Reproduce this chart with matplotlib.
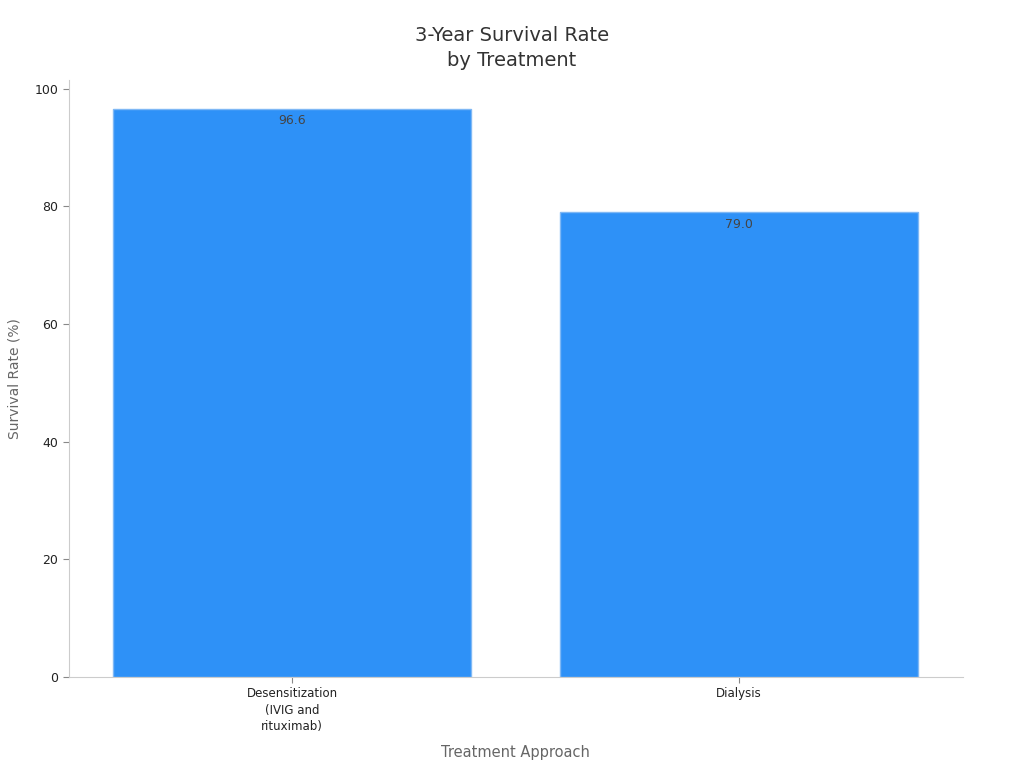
import matplotlib.pyplot as plt
import numpy as np

plt.rcParams['font.family'] = ['DejaVu Sans']

categories = ['Desensitization\n(IVIG and\nrituximab)', 'Dialysis']
survival = [96.6, 79.0]

fig = plt.figure(figsize=(10.24, 7.68), dpi=100)
ax = fig.add_axes([0.067, 0.1185, 0.873, 0.7775])

x = np.arange(len(categories))
bars = ax.bar(x, survival, width=0.8, color='#2E91F7', edgecolor='#7FB8F5', linewidth=1)

for b, v in zip(bars, survival):
    ax.annotate(f'{v:.1f}', xy=(b.get_x() + b.get_width() / 2, v), xytext=(0, -4),
                textcoords='offset points', ha='center', va='top', fontsize=9, color='#444444')

ax.set_xlim(-0.5, 1.5)
ax.set_ylim(0, 101.5)
ax.set_xticks(x)
ax.set_xticklabels(categories, fontsize=8.5, color='#222222', linespacing=1.35)
ax.set_yticks([0, 20, 40, 60, 80, 100])
ax.tick_params(axis='y', labelsize=9, colors='#222222')
ax.tick_params(axis='both', color='#888888', length=4)

for s in ['top', 'right']:
    ax.spines[s].set_visible(False)
for s in ['left', 'bottom']:
    ax.spines[s].set_color('#CCCCCC')

ax.set_xlabel('Treatment Approach', fontsize=10.5, color='#666666', labelpad=8)
ax.set_ylabel('Survival Rate (%)', fontsize=10, color='#666666', labelpad=9)
fig.suptitle('3-Year Survival Rate\nby Treatment', fontsize=14, color='#333333', y=0.966,
             linespacing=1.4)

fig.savefig('out.png', dpi=100)
